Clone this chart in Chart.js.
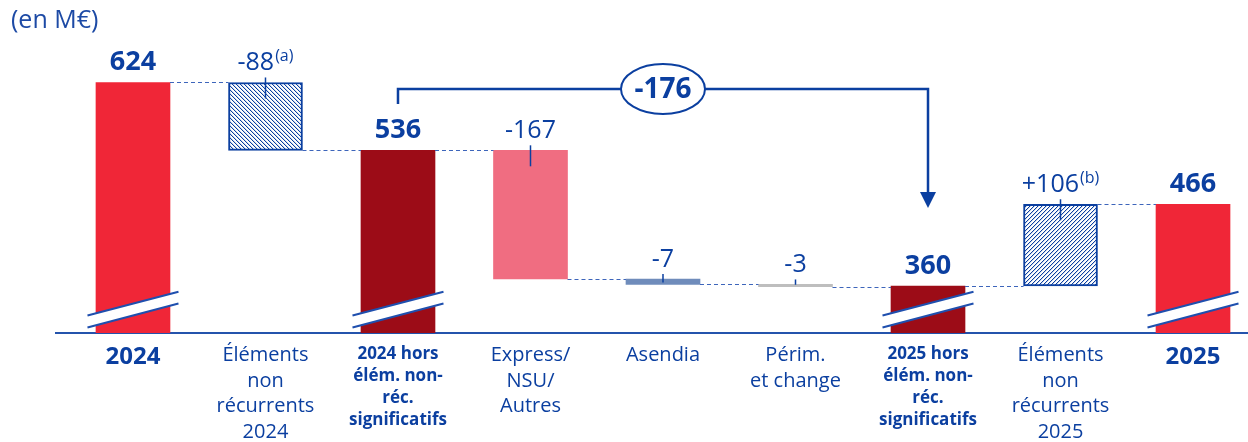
<!DOCTYPE html>
<html><head><meta charset="utf-8">
<script src="https://cdn.jsdelivr.net/npm/chart.js@4/dist/chart.umd.min.js"></script>
<style>html,body{margin:0;padding:0;background:#fff;overflow:hidden}#wrap{width:1248px;height:442px;position:relative}</style>
</head><body><div id="wrap"><canvas id="c" width="1248" height="442"></canvas></div>
<script>
// ---- data ----
const categories = [["2024"],["Éléments","non","récurrents","2024"],["2024 hors","élém. non-","réc.","significatifs"],["Express/","NSU/","Autres"],["Asendia"],["Périm.","et change"],["2025 hors","élém. non-","réc.","significatifs"],["Éléments","non","récurrents","2025"],["2025"]];
const values = [624, -88, 536, -167, -7, -3, 360, 106, 466];
const isTotal = [true, false, true, false, false, false, true, false, true];
const notes = ["", "(a)", "", "", "", "", "", "(b)", ""];
const bridgeFrom = 2, bridgeTo = 6;
const unitLabel = "(en M€)";
const yMin = 299, yMax = 731;

// ---- derived ----
let run = 0;
const levels = [];
const ranges = values.map((v, i) => {
  if (isTotal[i]) { run = v; levels.push(run); return [yMin, v]; }
  const r = [run, run + v]; run += v; levels.push(run);
  return [Math.min(r[0], r[1]), Math.max(r[0], r[1])];
});
const bridgeValue = values[bridgeTo] - values[bridgeFrom];

const F = "'Open Sans', 'DejaVu Sans', sans-serif";
const BLUE = '#0b3fa0';
const canvas = document.getElementById('c');
const ctx0 = canvas.getContext('2d');
function hatch(dir) {
  const s = 4, c = document.createElement('canvas'); c.width = s; c.height = s;
  const g = c.getContext('2d');
  g.fillStyle = '#fff'; g.fillRect(0, 0, s, s);
  g.fillStyle = BLUE;
  for (let k = 0; k < s; k++) g.fillRect(k, dir > 0 ? s - 1 - k : k, 1, 1);
  g.fillStyle = 'rgba(11,63,160,0.2)';
  for (let k = 0; k < s; k++) g.fillRect((k + 1) % s, dir > 0 ? s - 1 - k : k, 1, 1);
  return ctx0.createPattern(c, 'repeat');
}
const colors = ['#f02637', hatch(-1), '#9c0c17', '#f06d81', '#6f8cbb', '#bebebe', '#9c0c17', hatch(1), '#f02637'];

const deco = {
  id: 'deco',
  afterDatasetsDraw(chart) {
    const c = chart.ctx, xs = chart.scales.x, ys = chart.scales.y;
    const meta = chart.getDatasetMeta(0);
    const base = chart.chartArea.bottom;
    c.save();
    // dashed connectors
    c.strokeStyle = '#3d65bb'; c.lineWidth = 1; c.setLineDash([4, 3]);
    for (let i = 0; i < values.length - 1; i++) {
      const a = meta.data[i], b = meta.data[i + 1];
      const y = Math.round(ys.getPixelForValue(levels[i])) + 0.5;
      c.beginPath(); c.moveTo(a.x + a.width / 2, y); c.lineTo(b.x - b.width / 2, y); c.stroke();
    }
    c.setLineDash([]);
    // breaks on totals
    meta.data.forEach((bar, i) => {
      if (!isTotal[i]) return;
      const x0 = bar.x - 45.5, x1 = bar.x + 45.5;
      c.fillStyle = '#fff';
      c.beginPath(); c.moveTo(x0, base - 17.5); c.lineTo(x1, base - 41.3); c.lineTo(x1, base - 29.5); c.lineTo(x0, base - 5.5); c.closePath(); c.fill();
      c.strokeStyle = '#1f4fae'; c.lineWidth = 2;
      c.beginPath(); c.moveTo(x0, base - 17.5); c.lineTo(x1, base - 41.3); c.moveTo(x0, base - 5.5); c.lineTo(x1, base - 29.5); c.stroke();
    });
    // value labels
    c.fillStyle = BLUE; c.textBaseline = 'alphabetic';
    meta.data.forEach((bar, i) => {
      const top = ys.getPixelForValue(ranges[i][1]);
      const bot = ys.getPixelForValue(ranges[i][0]);
      const y = top - 12;
      if (isTotal[i]) {
        c.font = `bold 27px ${F}`; c.textAlign = 'center';
        c.fillText(String(values[i]), bar.x, y);
      } else {
        const main = (values[i] > 0 ? '+' : '') + values[i];
        c.font = `25px ${F}`; const w1 = c.measureText(main).width;
        c.font = `16px ${F}`; const w2 = notes[i] ? c.measureText(notes[i]).width + 1 : 0;
        const x0 = bar.x - (w1 + w2) / 2;
        c.textAlign = 'left';
        c.font = `25px ${F}`; c.fillText(main, x0, y);
        if (notes[i]) { c.font = `16px ${F}`; c.fillText(notes[i], x0 + w1 + 1, y - 9); }
        c.strokeStyle = BLUE; c.lineWidth = 1.5;
        c.beginPath(); c.moveTo(bar.x, top - 5); c.lineTo(bar.x, Math.min(top + 16, bot - 2)); c.stroke();
      }
    });
    // bridge
    const bx1 = xs.getPixelForValue(bridgeFrom), bx2 = xs.getPixelForValue(bridgeTo);
    const by = 89, cx = (bx1 + bx2) / 2;
    c.strokeStyle = BLUE; c.lineWidth = 2.5;
    c.beginPath(); c.moveTo(bx1, 104); c.lineTo(bx1, by); c.lineTo(bx2, by); c.lineTo(bx2, 194); c.stroke();
    c.fillStyle = BLUE; c.beginPath(); c.moveTo(bx2 - 8, 192); c.lineTo(bx2 + 8, 192); c.lineTo(bx2, 208); c.closePath(); c.fill();
    c.fillStyle = '#fff'; c.lineWidth = 2;
    c.beginPath(); c.ellipse(cx, by, 42, 25, 0, 0, Math.PI * 2); c.fill(); c.stroke();
    c.fillStyle = BLUE; c.font = `bold 28px ${F}`; c.textAlign = 'center'; c.textBaseline = 'middle';
    c.fillText(String(bridgeValue), cx, by + 1);
    // unit
    c.fillStyle = '#1d4aa5'; c.font = `25px ${F}`; c.textAlign = 'left'; c.textBaseline = 'alphabetic';
    c.fillText(unitLabel, 11, 28);
    c.restore();
  }
};

new Chart(canvas, {
  type: 'bar',
  data: {
    datasets: [{
      data: ranges.map((r, i) => ({ x: i, y: r })),
      backgroundColor: colors,
      borderColor: values.map((v, i) => notes[i] ? BLUE : 'rgba(0,0,0,0)'),
      borderWidth: values.map((v, i) => notes[i] ? 2 : 0),
      borderSkipped: false,
      barThickness: 74
    }]
  },
  options: {
    responsive: false, animation: false,
    layout: { padding: { left: 56, right: 0, top: 0, bottom: 0 } },
    plugins: { legend: { display: false }, tooltip: { enabled: false } },
    scales: {
      x: {
        type: 'linear', min: -0.581, max: 8.415, offset: false,
        grid: { display: false, drawTicks: false },
        border: { display: true, color: '#2453ac', width: 2 },
        afterBuildTicks: s => { s.ticks = categories.map((_, i) => ({ value: i })); },
        afterFit: s => { s.height = 109; },
        ticks: {
          autoSkip: false, maxRotation: 0, minRotation: 0, padding: 10, color: BLUE,
          callback: (v, i) => categories[i],
          font: (ctx) => {
            const i = ctx.index;
            if (isTotal[i] && categories[i].length === 1) return { family: F, size: 24, weight: 'bold', lineHeight: 1.2 };
            if (isTotal[i]) return { family: F, size: 17, weight: 'bold', lineHeight: 1.3 };
            return { family: F, size: 20, lineHeight: 1.27 };
          }
        }
      },
      y: { display: false, min: yMin, max: yMax }
    }
  },
  plugins: [deco]
});
</script>
</body></html>
